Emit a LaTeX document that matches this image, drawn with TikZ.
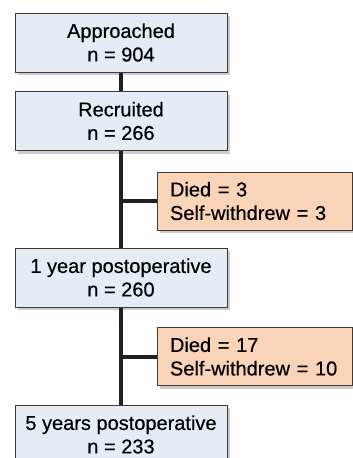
\documentclass[tikz,border=0pt]{standalone}
\usepackage{fontspec}
\setmainfont{Liberation Sans}
\newfontfamily\medfont[FakeBold=0.5]{Liberation Sans}
\usetikzlibrary{shadows}
\definecolor{bluefill}{HTML}{E6ECF6}
\definecolor{orangefill}{HTML}{F9D4B8}
\definecolor{edge}{HTML}{3A3A3A}
\definecolor{conn}{HTML}{231F20}
\tikzset{
  stagebox/.style={draw=edge, line width=1pt, fill=bluefill, align=center,
    minimum width=212pt, minimum height=59pt, inner sep=0pt,
    font=\medfont\fontsize{20}{23.5}\selectfont,
    drop shadow={shadow xshift=3pt, shadow yshift=-3pt, fill=black!40, opacity=0.5}},
  lossbox/.style={draw=edge, line width=1pt, fill=orangefill, align=left,
    minimum width=195pt, minimum height=58pt, inner sep=0pt, text width=169pt,
    font=\medfont\fontsize{20}{23.5}\selectfont,
    drop shadow={shadow xshift=3pt, shadow yshift=-3pt, fill=black!40, opacity=0.5}},
  connector/.style={draw=conn, line width=4pt}
}
\begin{document}
\begin{tikzpicture}[x=1pt,y=-1pt]
\useasboundingbox (0,0) rectangle (353,458);
\begin{scope}
\clip (0,0) rectangle (353,458);
\node[stagebox] (a) at (121,42.5) {Approached\\n = 904};
\node[stagebox] (r) at (121,121) {Recruited\\n = 266};
\node[lossbox] (d1) at (254.5,201) {Died = 3\\Self-withdrew = 3};
\node[stagebox] (y1) at (121,277.5) {1 year postoperative\\n = 260};
\node[lossbox] (d2) at (254.5,356.5) {Died = 17\\Self-withdrew = 10};
\node[stagebox] (y5) at (121,434.5) {5 years postoperative\\n = 233};
\draw[connector] (a.south) -- (r.north);
\draw[connector] (r.south) -- (y1.north);
\draw[connector] (r.south |- d1.west) -- (d1.west);
\draw[connector] (y1.south) -- (y5.north);
\draw[connector] (y1.south |- d2.west) -- (d2.west);
\end{scope}
\end{tikzpicture}
\end{document}
